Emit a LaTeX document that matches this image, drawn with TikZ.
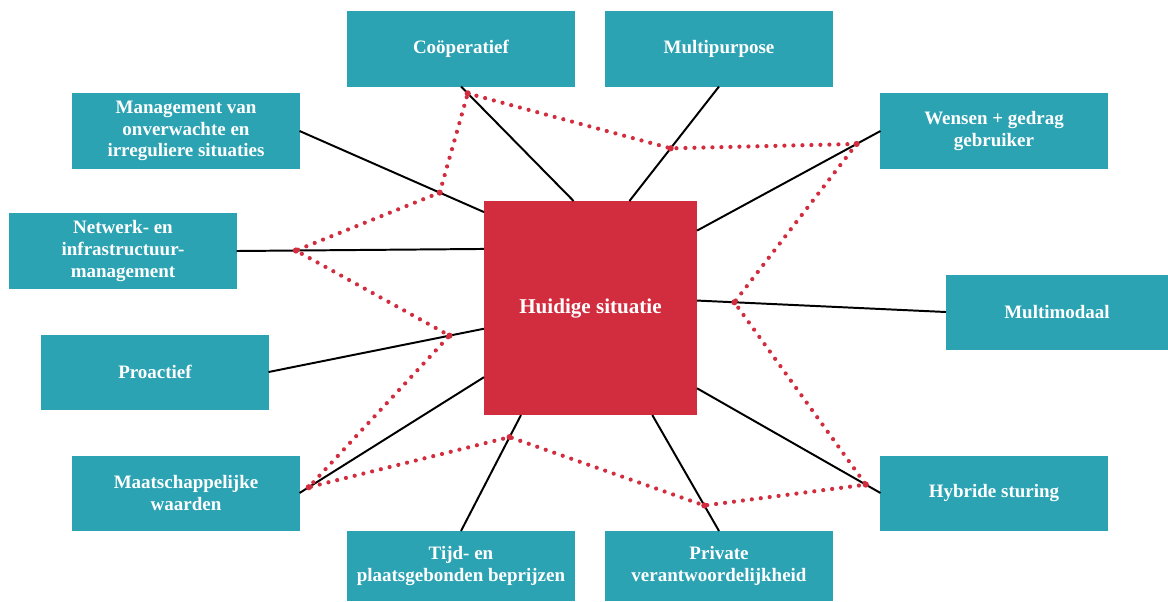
\documentclass[tikz,border=0pt]{standalone}
\usepackage{fontspec}
\setmainfont{Liberation Serif}
\usetikzlibrary{calc}
\definecolor{tealbox}{RGB}{43,163,179}
\definecolor{redbox}{RGB}{209,45,62}
\begin{document}
\begin{tikzpicture}[x=0.025cm,y=-0.025cm,
    thema/.style={fill=tealbox,text=white,font=\bfseries\fontsize{13.5}{15.4}\selectfont,
        align=center,minimum width=5.675cm,minimum height=1.875cm,inner sep=0pt,outer sep=0pt},
    spaak/.style={black,line width=1.4pt},
    stip/.style={redbox,line width=3pt,line cap=round,dash pattern=on 0pt off 6.4pt}]

    % vaste afmeting van het plaatje
    \useasboundingbox (0,0) rectangle (1168,601);

    % het midden
    \node[fill=redbox,text=white,font=\bfseries\fontsize{15}{17}\selectfont,
        minimum width=5.325cm,minimum height=5.35cm,inner sep=0pt,outer sep=0pt]
        (huidig) at (590.5,308) {Huidige situatie};

    % de blokken rondom
    \node[thema] (coop) at (461,49) {Coöperatief};
    \node[thema] (multi) at (719,49) {Multipurpose};
    \node[thema] (wensen) at (994,131) {Wensen + gedrag\\gebruiker};
    \node[thema,minimum width=5.55cm] (modaal) at (1057,312) {Multimodaal};
    \node[thema] (hybride) at (994,493) {Hybride sturing};
    \node[thema,minimum height=1.75cm] (private) at (719,566) {Private\\verantwoordelijkheid};
    \node[thema,minimum height=1.75cm] (tijd) at (461,566) {Tijd- en\\plaatsgebonden beprijzen};
    \node[thema] (maats) at (186,493) {Maatschappelijke\\waarden};
    \node[thema] (proact) at (155,372) {Proactief};
    \node[thema] (netw) at (123,251) {Netwerk- en\\infrastructuur-\\management};
    \node[thema] (manag) at (186,131) {Management van\\onverwachte en\\irreguliere situaties};

    % spaken naar het midden
    \draw[spaak] (coop.south) -- (huidig.99);
    \draw[spaak] (multi.south) -- (huidig.70);
    \draw[spaak] (wensen.west) -- (huidig.36);
    \draw[spaak] (modaal.west) -- (huidig.4);
    \draw[spaak] (hybride.west) -- (huidig.-37);
    \draw[spaak] (private.north) -- (huidig.-60);
    \draw[spaak] (tijd.north) -- (huidig.237);
    \draw[spaak] (maats.east) -- (huidig.213);
    \draw[spaak] (proact.east) -- (huidig.191);
    \draw[spaak] (netw.east) -- (huidig.151);
    \draw[spaak] (manag.east) -- (huidig.138);

    % punten op de spaken
    \coordinate (p1) at ($(coop.south)!0.06!(huidig.99)$);
    \coordinate (p2) at ($(multi.south)!0.54!(huidig.70)$);
    \coordinate (p3) at ($(wensen.west)!0.13!(huidig.36)$);
    \coordinate (p4) at ($(modaal.west)!0.85!(huidig.4)$);
    \coordinate (p5) at ($(hybride.west)!0.08!(huidig.-37)$);
    \coordinate (p6) at ($(private.north)!0.22!(huidig.-60)$);
    \coordinate (p7) at ($(tijd.north)!0.81!(huidig.237)$);
    \coordinate (p8) at ($(maats.east)!0.05!(huidig.213)$);
    \coordinate (p9) at ($(proact.east)!0.84!(huidig.191)$);
    \coordinate (p10) at ($(netw.east)!0.24!(huidig.151)$);
    \coordinate (p11) at ($(manag.east)!0.76!(huidig.138)$);

    % rode stippellijn
    \draw[stip] (p1) -- (p2) -- (p3) -- (p4) -- (p5) -- (p6) -- (p7) -- (p8)
        -- (p9) -- (p10) -- (p11) -- cycle;
    \foreach \p in {p1,p2,p3,p4,p5,p6,p7,p8,p9,p10,p11}
        \fill[redbox] (\p) circle (2.2pt);
\end{tikzpicture}
\end{document}
